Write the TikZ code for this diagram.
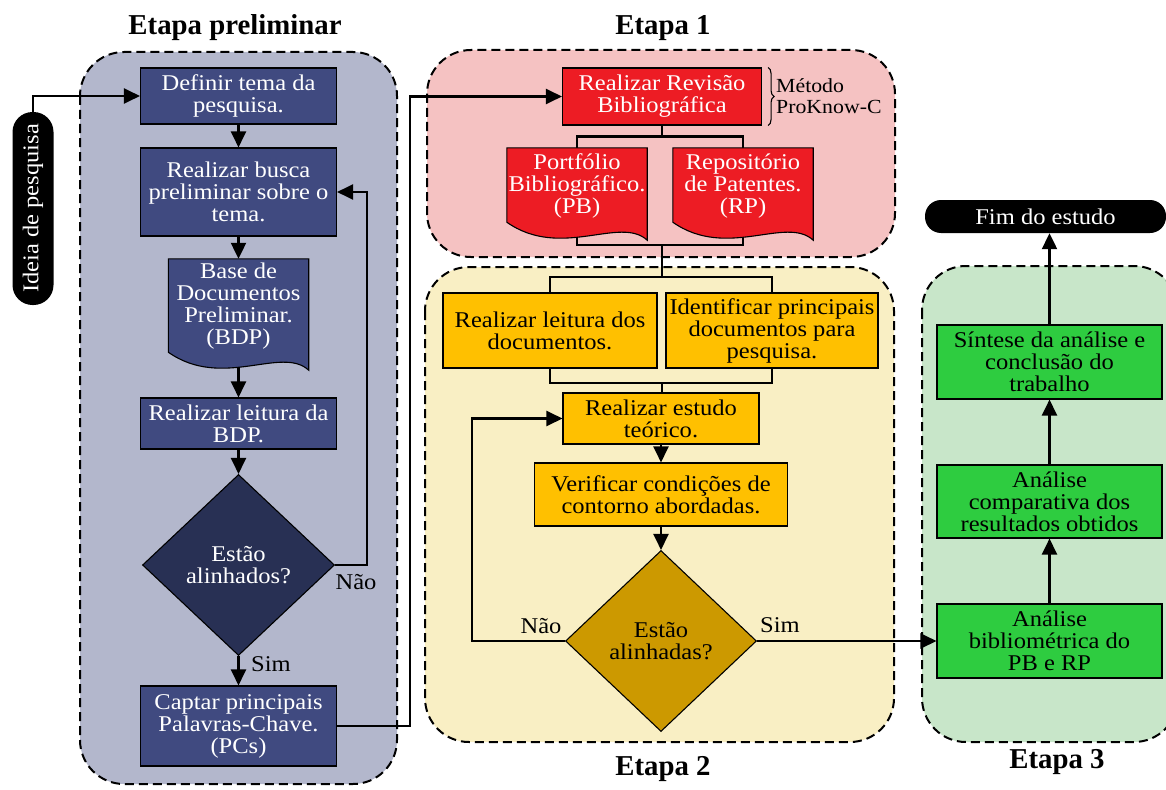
\documentclass[tikz,border=0pt]{standalone}
\usepackage{fontspec}
\setmainfont{Liberation Serif}
\newfontfamily\bxf[FakeStretch=1.09]{Liberation Serif}
\usetikzlibrary{arrows.meta,shapes.geometric,calc,decorations.pathreplacing}

\pgfdeclarelayer{bg}
\pgfdeclarelayer{lines}
\pgfdeclarelayer{docs}
\pgfsetlayers{bg,lines,docs,main}

\definecolor{prelimbg}{RGB}{179,183,204}
\definecolor{navy}{RGB}{64,74,128}
\definecolor{navydk}{RGB}{40,48,84}
\definecolor{pinkbg}{RGB}{245,194,194}
\definecolor{redbox}{RGB}{237,28,36}
\definecolor{creambg}{RGB}{249,239,196}
\definecolor{amber}{RGB}{255,192,0}
\definecolor{gold}{RGB}{204,153,0}
\definecolor{mintbg}{RGB}{200,230,201}
\definecolor{greenbox}{RGB}{46,204,64}

\tikzset{
  boxtxt/.style={font=\bxf\fontsize{22.5}{22}\selectfont, align=center},
  plainbox/.style={boxtxt, rectangle, draw=black, line width=1.1pt, inner sep=0pt},
  bluebox/.style={plainbox, fill=navy, text=white},
  redbx/.style={plainbox, fill=redbox, text=white},
  amberbx/.style={plainbox, fill=amber, text=black},
  greenbx/.style={plainbox, fill=greenbox, text=black},
  docnode/.style={boxtxt, inner sep=0pt, minimum width=140pt, text=white},
  decision/.style={boxtxt, diamond, draw=black, line width=1.1pt, inner sep=0pt},
  pill/.style={boxtxt, rectangle, fill=black, text=white, inner sep=0pt},
  group/.style={draw=black, line width=2pt, dash pattern=on 9pt off 5pt, rounded corners=44pt},
  link/.style={draw=black, line width=2.2pt},
  arr/.style={link, -{Triangle[length=16pt,width=15pt]}},
  title/.style={font=\fontsize{28.8}{30}\selectfont\bfseries, anchor=base},
  lbl/.style={boxtxt, text=black},
  note/.style={font=\bxf\fontsize{20}{20.5}\selectfont, align=left, anchor=west, inner sep=0pt}
}

% document symbol: flat top, wavy bottom edge
\newcommand{\docbg}[2]{%
  \path[fill=#2, draw=black, line width=1.1pt]
    (#1.north west) -- (#1.north east) -- ($(#1.south east)+(0,16)$)
    .. controls ($(#1.south east)+(-27,-9)$) and ($(#1.south west)+(54,36)$)
    .. ($(#1.south west)+(0,-2)$) -- cycle;}

\begin{document}
\begin{tikzpicture}[x=1pt, y=-1pt]
\useasboundingbox (0,0) rectangle (1166,789);

% ---------- titles ----------
\node[title] (t0) at (235,35) {Etapa preliminar};
\node[title] (t1) at (663,35) {Etapa 1};
\node[title] (t2) at (663,775) {Etapa 2};
\node[title] (t3) at (1057,768) {Etapa 3};

% ---------- preliminary stage ----------
\node[pill, rotate=90, minimum width=193pt, minimum height=41pt, rounded corners=20pt] (idea) at (33,208.5) {Ideia de pesquisa};
\node[bluebox, minimum width=196pt, minimum height=56pt] (def) at (238.5,96) {Definir tema da\\pesquisa.};
\node[bluebox, minimum width=196pt, minimum height=88pt] (busca) at (238.5,192) {Realizar busca\\preliminar sobre o\\tema.};
\node[docnode, minimum height=95pt] (bdp) at (238.5,306.5) {Base de\\Documentos\\Preliminar.\\(BDP)};
\node[bluebox, minimum width=196pt, minimum height=51pt] (lei) at (238.5,423.5) {Realizar leitura da\\BDP.};
\node[decision, fill=navydk, text=white, minimum width=192pt, minimum height=181pt] (dec1) at (238.5,565) {Estão\\alinhados?};
\node[bluebox, minimum width=196pt, minimum height=80pt] (cap) at (238.5,726) {Captar principais\\Palavras-Chave.\\(PCs)};
\node[lbl] (nao1) at (356,582) {Não};
\node[lbl] (sim1) at (271,664) {Sim};

% ---------- stage 1 ----------
\node[redbx, minimum width=199pt, minimum height=57pt] (rev) at (662,96.5) {Realizar Revisão\\Bibliográfica};
\node[note] (mtd) at (776,96) {Método\\ProKnow-C};
\node[docnode, minimum height=76pt] (pb) at (577,186) {Portfólio\\Bibliográfico.\\(PB)};
\node[docnode, minimum height=76pt] (rp) at (743,186) {Repositório\\de Patentes.\\(RP)};
\draw[decorate, decoration={brace, amplitude=6pt}, line width=1.1pt]
  ($(rev.north east)+(6,0)$) -- ($(rev.south east)+(6,0)$);

% ---------- stage 2 ----------
\node[amberbx, minimum width=214pt, minimum height=75pt] (lei2) at (550,330.5) {Realizar leitura dos\\documentos.};
\node[amberbx, minimum width=212pt, minimum height=75pt] (idt) at (772,330.5) {Identificar principais\\documentos para\\pesquisa.};
\node[amberbx, minimum width=196pt, minimum height=51pt] (est) at (661,418.5) {Realizar estudo\\teórico.};
\node[amberbx, minimum width=253pt, minimum height=63pt] (ver) at (661,494.5) {Verificar condições de\\contorno abordadas.};
\node[decision, fill=gold, text=black, minimum width=191pt, minimum height=181pt] (dec2) at (661,641) {Estão\\alinhadas?};
\node[lbl] (nao2) at (541,626) {Não};
\node[lbl] (sim2) at (780,625) {Sim};

% ---------- stage 3 ----------
\node[pill, minimum width=241pt, minimum height=33pt, rounded corners=16pt] (fim) at (1045.5,216.5) {Fim do estudo};
\node[greenbx, minimum width=225pt, minimum height=74pt] (sin) at (1049.5,362) {Síntese da análise e\\conclusão do\\trabalho};
\node[greenbx, minimum width=225pt, minimum height=73pt] (cmp) at (1049.5,501.5) {Análise\\comparativa dos\\resultados obtidos};
\node[greenbx, minimum width=225pt, minimum height=74pt] (bib) at (1049.5,641) {Análise\\bibliométrica do\\PB e RP};

% ---------- stage frames ----------
\begin{pgfonlayer}{bg}
  \draw[group, fill=prelimbg] (80,52) rectangle (397,784);
  \draw[group, fill=pinkbg] (427,50) rectangle (895,257);
  \draw[group, fill=creambg] (425,267) rectangle (894,742);
  \draw[group, fill=mintbg] (922,266) rectangle (1178,742);
\end{pgfonlayer}

% ---------- document symbols ----------
\begin{pgfonlayer}{docs}
  \docbg{bdp}{navy}
  \docbg{pb}{redbox}
  \docbg{rp}{redbox}
\end{pgfonlayer}

% ---------- connectors ----------
\begin{pgfonlayer}{lines}
  \draw[arr] (idea.east) |- (def.west);
  \draw[arr] (def.south) -- (busca.north);
  \draw[arr] (busca.south) -- (bdp.north);
  \draw[arr] (bdp.south) -- (lei.north);
  \draw[arr] (lei.south) -- (dec1.north);
  \draw[arr] (dec1.south) -- (cap.north);
  \draw[arr] (dec1.east) -- ++(32,0) |- (busca.east);
  \draw[arr] (cap.east) -- ++(73,0) |- (rev.west);

  \draw[link] (rev.south) -- ++(0,11) coordinate (ja) -| (pb.north);
  \draw[link] (ja) -| (rp.north);
  \coordinate (jb) at (662,245);
  \coordinate (jc) at (662,277);
  \coordinate (jd) at (662,383);
  \draw[link] (pb.south) |- (jb) -| (rp.south);
  \draw[link] (jb) -- (jc);
  \draw[link] (lei2.north) |- (jc) -| (idt.north);
  \draw[link] (lei2.south) |- (jd) -| (idt.south);
  \draw[link] (jd) -- (jd |- est.north);
  \draw[arr] (est.south) -- (ver.north);
  \draw[arr] (ver.south) -- (dec2.north);
  \draw[arr] (dec2.west) -- ++(-93,0) |- (est.west);
  \draw[arr] (dec2.east) -- (bib.west);

  \draw[arr] (bib.north) -- (cmp.south);
  \draw[arr] (cmp.north) -- (sin.south);
  \draw[arr] (sin.north) -- (sin.north |- fim.south);
\end{pgfonlayer}
\end{tikzpicture}
\end{document}
